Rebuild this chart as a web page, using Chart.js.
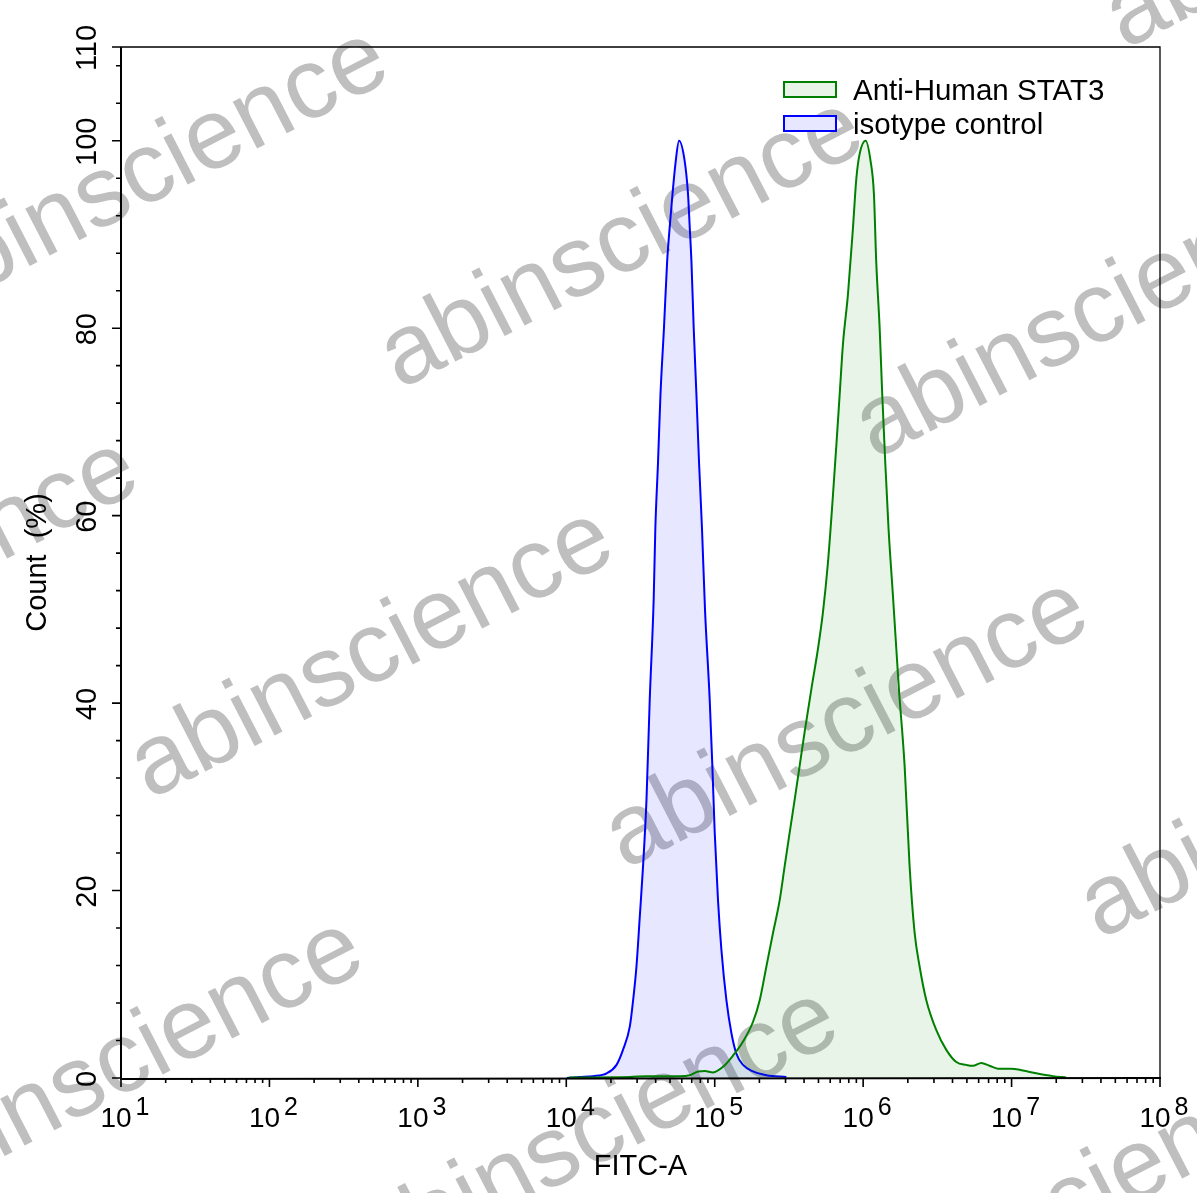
<!DOCTYPE html>
<html>
<head>
<meta charset="utf-8">
<script src="https://cdn.jsdelivr.net/npm/chart.js@4"></script>
<style>
html,body{margin:0;padding:0;background:#fff;}
#wrap{width:1197px;height:1193px;}
</style>
</head>
<body>
<div id="wrap"><canvas id="c" width="1197" height="1193"></canvas></div>
<script>
// ---- data ----
const seriesNames = ['Anti-Human STAT3', 'isotype control'];
const xTickExponents = [1, 2, 3, 4, 5, 6, 7, 8];
const yTickLabels = [0, 20, 40, 60, 80, 100, 110];
const yMinorStep = 4;
const xTitle = 'FITC-A';
const yTitle = 'Count  (%)';
const watermarkText = 'abinscience';

// isotype control (blue)
const isotypeX = [10100, 12300, 15100, 18700, 21800, 24100, 26800, 28200, 29700, 31300, 32900, 34700,
  36500, 38800, 39800, 41500, 43100, 45500, 47800, 49700, 54600, 57500, 62800, 66100, 67900, 69700,
  72200, 75300, 78400, 82100, 86000, 92500, 96400, 100000, 105200, 110900, 119900, 129500, 139900,
  155200, 181200, 222900, 304000];
const isotypeY = [0, 0.1, 0.2, 0.5, 1.4, 3.0, 5.5, 8.3, 11.9, 17.3, 22.6, 29.7,
  40.4, 51.1, 58.6, 65.7, 72.9, 80, 87.1, 90.7, 97.8, 100, 97.8, 94.3, 90.7, 87.1,
  80, 72.9, 65.7, 58.6, 50, 40.4, 33.3, 26.2, 19.0, 13.7, 8.3, 4.8, 2.6,
  1.4, 0.7, 0.3, 0.1];

// Anti-Human STAT3 (green)
const stat3X = [10400, 26800, 34700, 58100, 67900, 77300, 85700, 97500, 113800, 132900, 155200, 181200,
  201000, 222900, 247200, 274200, 296000, 320000, 345700, 373400, 403300, 447900, 496200,
  536200, 579400, 626200, 659900, 694700, 731200, 790100, 853800, 900200, 947100, 1039000,
  1123000, 1182000, 1225000, 1292000, 1345000, 1409000, 1483000, 1587000, 1673000, 1742000,
  1903000, 2056000, 2222000, 2401000,
  2664000, 3112000, 3634000, 4244000, 4955000, 5488000, 6248000, 7113000, 8095000, 9956000,
  11920000, 14660000, 18970000, 23330000];
const stat3Y = [0.05, 0.1, 0.2, 0.2, 0.3, 0.7, 0.75, 0.6, 1.2, 2.4, 3.9, 6.0,
  8.3, 11.9, 15.5, 19.0, 22.6, 26.2, 29.7, 33.3, 36.9, 41.5, 45.8,
  49.7, 55.0, 62.2, 67.5, 72.9, 78.3, 83.6, 90.7, 96.0, 98.6, 100,
  97.8, 94.3, 87.1, 80, 72.9, 65.7, 58.6, 51.5, 45.8, 41.5,
  33.3, 22.6, 15.5, 11.9,
  8.3, 5.1, 3.0, 1.7, 1.4, 1.3, 1.6, 1.3, 1.0, 1.0,
  0.8, 0.5, 0.2, 0.05];

// ---- styles ----
const FONT = '"Liberation Sans", Arial, sans-serif';
const colors = [
  {line: '#008000', fill: 'rgba(0,128,0,0.09)'},
  {line: '#0000ff', fill: 'rgba(0,0,255,0.095)'}
];

const toPts = (xs, ys) => xs.map((x, i) => ({x: x, y: ys[i]}));

const decor = {
  id: 'decor',
  beforeDatasetsDraw(chart) {
    const ctx = chart.ctx;
    ctx.save();
    ctx.fillStyle = '#bfbfbf';
    ctx.font = '100px ' + FONT;
    ctx.textAlign = 'left';
    ctx.textBaseline = 'alphabetic';
    const ox = 400, oy = 390, ax = 475, ay = 70, bx = -250, by = 410;
    for (let i = -3; i <= 3; i++) {
      for (let j = -2; j <= 3; j++) {
        const px = ox + ax * i + bx * j, py = oy + ay * i + by * j;
        if (px < -700 || px > 1250 || py < -50 || py > 1500) continue;
        ctx.save();
        ctx.translate(px, py);
        ctx.rotate(-27.3 * Math.PI / 180);
        ctx.fillText(watermarkText, 0, 0);
        ctx.restore();
      }
    }
    ctx.restore();
  },
  afterDraw(chart) {
    const ctx = chart.ctx;
    const a = chart.chartArea;
    const xs = chart.scales.x, ys = chart.scales.y;
    ctx.save();
    ctx.strokeStyle = '#000';
    ctx.lineCap = 'butt';
    // frame top/right thin
    ctx.lineWidth = 1.3;
    ctx.beginPath();
    ctx.moveTo(a.left, a.top); ctx.lineTo(a.right, a.top); ctx.lineTo(a.right, a.bottom);
    ctx.stroke();
    // axes left/bottom
    ctx.lineWidth = 2;
    ctx.beginPath();
    ctx.moveTo(a.left, a.top); ctx.lineTo(a.left, a.bottom + 1); ctx.lineTo(a.right + 1, a.bottom);
    ctx.stroke();

    // x ticks
    ctx.lineWidth = 1.6;
    ctx.beginPath();
    for (let k = 0; k < xTickExponents.length; k++) {
      const e = xTickExponents[k];
      const p = xs.getPixelForValue(Math.pow(10, e));
      ctx.moveTo(p, a.bottom); ctx.lineTo(p, a.bottom + 9);
      if (k < xTickExponents.length - 1) {
        for (let m = 2; m <= 9; m++) {
          const q = xs.getPixelForValue(m * Math.pow(10, e));
          ctx.moveTo(q, a.bottom); ctx.lineTo(q, a.bottom + 5);
        }
      }
    }
    ctx.stroke();
    // y ticks
    ctx.beginPath();
    for (let v = 0; v <= ys.max; v += yMinorStep) {
      if (yTickLabels.indexOf(v) >= 0) continue;
      const p = ys.getPixelForValue(v);
      ctx.moveTo(a.left, p); ctx.lineTo(a.left - 5, p);
    }
    yTickLabels.forEach(v => {
      const p = ys.getPixelForValue(v);
      ctx.moveTo(a.left, p); ctx.lineTo(a.left - 9, p);
    });
    ctx.stroke();

    // x labels 10^n
    ctx.fillStyle = '#000';
    ctx.textBaseline = 'alphabetic';
    ctx.textAlign = 'left';
    xTickExponents.forEach(e => {
      const p = xs.getPixelForValue(Math.pow(10, e));
      ctx.font = '28px ' + FONT;
      const w1 = ctx.measureText('10').width;
      ctx.font = '25px ' + FONT;
      const w2 = ctx.measureText(String(e)).width;
      const gap = 4;
      const start = p - (w1 + gap + w2) / 2 + 4;
      ctx.font = '28px ' + FONT;
      ctx.fillText('10', start, 1127);
      ctx.font = '25px ' + FONT;
      ctx.fillText(String(e), start + w1 + gap, 1115);
    });

    // y labels rotated
    ctx.font = '29px ' + FONT;
    ctx.textAlign = 'center';
    ctx.textBaseline = 'middle';
    yTickLabels.forEach(v => {
      const p = ys.getPixelForValue(v);
      ctx.save();
      ctx.translate(88, p + 1);
      ctx.rotate(-Math.PI / 2);
      ctx.fillText(String(v), 0, 0);
      ctx.restore();
    });

    // axis titles
    ctx.font = '29px ' + FONT;
    ctx.textBaseline = 'alphabetic';
    ctx.fillText(xTitle, (a.left + a.right) / 2, 1175);
    ctx.save();
    ctx.translate(46, (a.top + a.bottom) / 2);
    ctx.rotate(-Math.PI / 2);
    ctx.fillText(yTitle, 0, 0);
    ctx.restore();

    // legend
    ctx.textAlign = 'left';
    chart.data.datasets.forEach((ds, i) => {
      const y0 = 82 + i * 34;
      ctx.fillStyle = '#fff';
      ctx.fillRect(784, y0, 52, 15);
      ctx.fillStyle = ds.backgroundColor;
      ctx.fillRect(784, y0, 52, 15);
      ctx.strokeStyle = ds.borderColor;
      ctx.lineWidth = 2;
      ctx.strokeRect(784, y0, 52, 15);
      ctx.fillStyle = '#000';
      ctx.font = '29.5px ' + FONT;
      ctx.fillText(ds.label, 853, y0 + 18);
    });
    ctx.restore();
  }
};

new Chart(document.getElementById('c'), {
  type: 'line',
  data: {
    datasets: [
      {
        label: seriesNames[0],
        data: toPts(stat3X, stat3Y),
        borderColor: colors[0].line,
        backgroundColor: colors[0].fill,
        borderWidth: 2,
        fill: 'origin',
        pointRadius: 0,
        cubicInterpolationMode: 'monotone'
      },
      {
        label: seriesNames[1],
        data: toPts(isotypeX, isotypeY),
        borderColor: colors[1].line,
        backgroundColor: colors[1].fill,
        borderWidth: 2,
        fill: 'origin',
        pointRadius: 0,
        cubicInterpolationMode: 'monotone'
      }
    ]
  },
  options: {
    responsive: false,
    animation: false,
    devicePixelRatio: 1,
    layout: {padding: {top: 47, right: 37, left: 0, bottom: 0}},
    plugins: {legend: {display: false}, tooltip: {enabled: false}},
    scales: {
      x: {
        type: 'logarithmic',
        min: 10, max: 1e8,
        grid: {display: false},
        border: {display: false},
        ticks: {display: false},
        afterFit: s => { s.height = 115; }
      },
      y: {
        type: 'linear',
        min: 0, max: 110,
        grid: {display: false},
        border: {display: false},
        ticks: {display: false},
        afterFit: s => { s.width = 121; }
      }
    }
  },
  plugins: [decor]
});
</script>
</body>
</html>
